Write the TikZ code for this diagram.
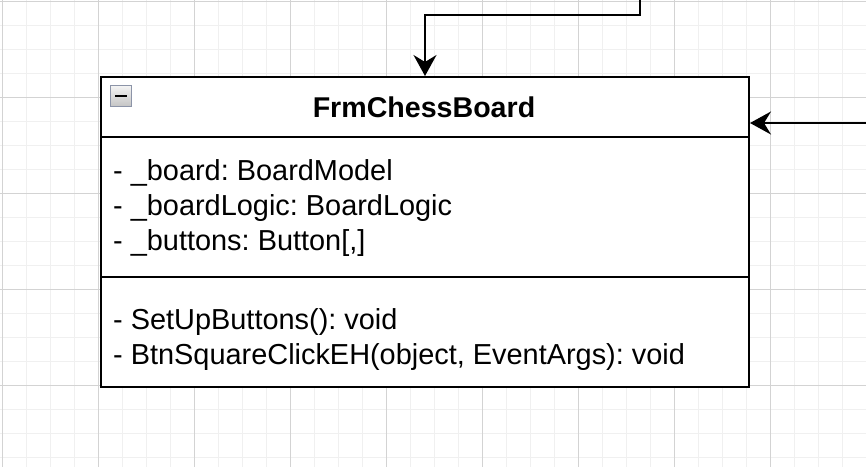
\documentclass[tikz,border=0pt]{standalone}
\usepackage{fontspec}
\setmainfont{Liberation Sans}
\usetikzlibrary{arrows.meta}
\definecolor{gridminor}{HTML}{F0F0F0}
\definecolor{gridmajor}{HTML}{D3D3D3}
\definecolor{iconborder}{HTML}{8C94A8}
\definecolor{icontop}{HTML}{F4F4F4}
\definecolor{iconbot}{HTML}{C4C4C4}
\tikzset{
  gminor/.style={draw=gridminor, line width=1pt},
  gmajor/.style={draw=gridmajor, line width=1pt},
  umlbox/.style={draw=black, line width=2pt, fill=white, minimum width=648pt, minimum height=310pt, inner sep=0pt, anchor=north west},
  sep/.style={draw=black, line width=2pt},
  conn/.style={draw=black, line width=2pt, -{Stealth[length=21pt, width=23pt, inset=7pt]}},
  txt/.style={font=\fontsize{28.9}{35}\selectfont\frenchspacing, anchor=base west, inner sep=0pt},
  ttl/.style={font=\fontsize{28.6}{35}\selectfont\bfseries, anchor=base, inner sep=0pt},
}
\begin{document}
\begin{tikzpicture}[x=1pt, y=-1pt]
\useasboundingbox (0,0) rectangle (866,467);
\fill[white] (0,0) rectangle (866,467);
\begin{scope}
\clip (0,0) rectangle (866,467);
\foreach \i in {0,...,36} { \draw[gminor] ({2.5+24*\i},0) -- ({2.5+24*\i},467); }
\foreach \j in {0,...,19} { \draw[gminor] (0,{1.5+24*\j}) -- (866,{1.5+24*\j}); }
\foreach \i in {0,...,9} { \draw[gmajor] ({2.5+96*\i},0) -- ({2.5+96*\i},467); }
\foreach \j in {0,...,4} { \draw[gmajor] (0,{1.5+96*\j}) -- (866,{1.5+96*\j}); }
\end{scope}

\node[umlbox] (box) at (100,76) {};
\coordinate (h1w) at (100,137); \coordinate (h1e) at (748,137);
\coordinate (h2w) at (100,277); \coordinate (h2e) at (748,277);
\draw[sep] (h1w) -- (h1e);
\draw[sep] (h2w) -- (h2e);

% collapse icon
\shade[top color=icontop, bottom color=iconbot] (110.5,85.5) rectangle (131.5,106.5);
\draw[iconborder, line width=1.8pt] (110.5,85.5) rectangle (131.5,106.5);
\draw[black, line width=2.2pt] (115,96) -- (127,96);

\node[ttl] (title) at (424,117) {FrmChessBoard};
\node[txt] (a1) at (113,180) {- \_board: BoardModel};
\node[txt] (a2) at (113,215) {- \_boardLogic: BoardLogic};
\node[txt] (a3) at (113,250) {- \_buttons: Button[,]};
\node[txt] (m1) at (113,329) {- SetUpButtons(): void};
\node[txt] (m2) at (113,364) {- BtnSquareClickEH(object, EventArgs): void};

\coordinate (src1) at (640,-2);
\coordinate (bend1) at (640,15);
\coordinate (src2) at (868,123);
\draw[conn] (src1) -- (bend1) -| (box.north);
\draw[conn] (src2) -- (src2 -| box.east);
\end{tikzpicture}
\end{document}
